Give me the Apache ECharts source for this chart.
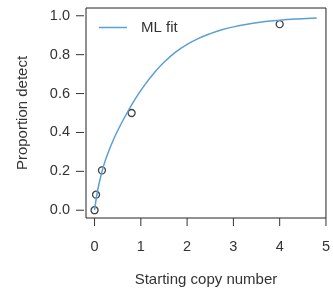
<!DOCTYPE html>
<html>
<head>
    <meta charset="utf-8"/>
    <title></title>
    <script src="https://cdn.jsdelivr.net/npm/echarts@6/dist/echarts.min.js"></script>
</head>
<body style="margin:0;background:#fff;">
<div id="chart" style="width:333px;height:293px;"></div>
<script type="text/javascript">

// observed proportions (5-fold dilution series)
var obsCopy = [0, 0.032, 0.16, 0.8, 4];
var obsProp = [0, 0.08, 0.205, 0.5, 0.957];

// ML fit curve
var fitCopy = [0, 0.05, 0.1, 0.2, 0.35, 0.5, 0.7, 0.9, 1.1, 1.3, 1.5, 1.75, 2.0, 2.25, 2.5, 2.75, 3.0, 3.5, 4.0, 4.4, 4.8];
var fitProp = [0, 0.08, 0.14, 0.232, 0.33, 0.41, 0.5, 0.58, 0.65, 0.71, 0.761, 0.813, 0.853, 0.884, 0.908, 0.928, 0.943, 0.964, 0.977, 0.984, 0.989];

var xTicks = [0, 1, 2, 3, 4, 5];
var yTicks = [0, 0.2, 0.4, 0.6, 0.8, 1.0];
var xRange = [-0.185, 5];
var yRange = [-0.04, 1.04];

var textCol = '#333';
var font = 'Liberation Sans, Arial, sans-serif';

var fitData = [], obsData = [];
for (var i = 0; i < fitCopy.length; i++) fitData.push([fitCopy[i], fitProp[i]]);
for (var i = 0; i < obsCopy.length; i++) obsData.push([obsCopy[i], obsProp[i]]);

// R style tick marks, placed through the axis scales
function tickSeries(values, isX) {
    return {
        type: 'custom',
        silent: true,
        clip: false,
        data: values.map(function (v) { return isX ? [v, yRange[0]] : [xRange[0], v]; }),
        renderItem: function (params, api) {
            var p = api.coord([api.value(0), api.value(1)]);
            var shape = isX
                ? {x1: p[0], y1: p[1], x2: p[0], y2: p[1] + 8}
                : {x1: p[0] - 2, y1: p[1], x2: p[0] - 10, y2: p[1]};
            return {type: 'line', shape: shape, style: {stroke: '#333', lineWidth: 1}};
        }
    };
}

var chart = echarts.init(document.getElementById('chart'), null, {renderer: 'canvas'});
var option = {
    animation: false,
    grid: {
        left: 86, right: 3, top: 8, bottom: 75,
        show: true,
        borderColor: '#222',
        borderWidth: 1
    },
    legend: {
        data: ['ML fit'],
        left: 94, top: 15,
        icon: 'rect',
        itemWidth: 28, itemHeight: 1.5,
        textStyle: {color: textCol, fontSize: 15, fontFamily: font, padding: [0, 0, 0, 9]}
    },
    xAxis: {
        type: 'value',
        min: xRange[0], max: xRange[1],
        name: 'Starting copy number',
        nameLocation: 'middle',
        nameGap: 54,
        nameTextStyle: {color: textCol, fontSize: 15, fontFamily: font},
        axisLine: {show: false},
        splitLine: {show: false},
        axisTick: {show: false},
        axisLabel: {customValues: xTicks, margin: 21, color: textCol, fontSize: 14.5, fontFamily: font}
    },
    yAxis: {
        type: 'value',
        min: yRange[0], max: yRange[1],
        offset: 2,
        name: 'Proportion detect',
        nameLocation: 'middle',
        nameGap: 54,
        nameTextStyle: {color: textCol, fontSize: 15, fontFamily: font},
        axisLine: {show: false},
        splitLine: {show: false},
        axisTick: {show: false},
        axisLabel: {
            customValues: yTicks, margin: 14, color: textCol, fontSize: 14.5, fontFamily: font,
            formatter: function (v) { return v.toFixed(1); }
        }
    },
    series: [{
        name: 'ML fit',
        type: 'line',
        data: fitData,
        smooth: 0.4,
        showSymbol: false,
        lineStyle: {color: '#5b9fd4', width: 1.5},
        itemStyle: {color: '#5b9fd4'}
    }, {
        name: 'obs',
        type: 'scatter',
        data: obsData,
        symbol: 'circle',
        symbolSize: 7,
        itemStyle: {color: 'rgba(0,0,0,0)', borderColor: '#111', borderWidth: 1.3}
    },
    tickSeries(xTicks, true),
    tickSeries(yTicks, false)]
};
chart.setOption(option);

</script>
</body>
</html>
